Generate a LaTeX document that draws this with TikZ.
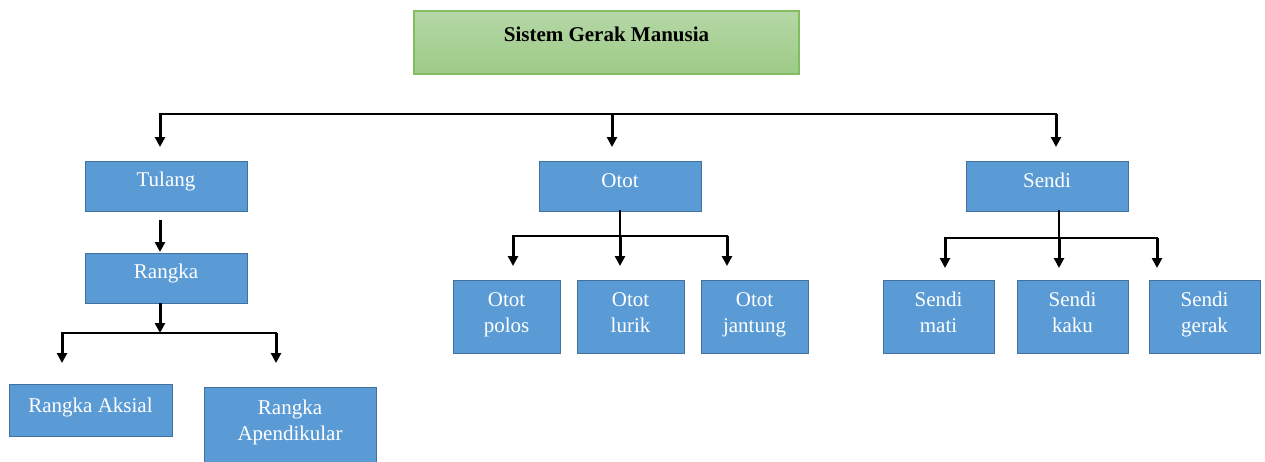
\documentclass[tikz,border=0pt]{standalone}
\usepackage{fontspec}
\setmainfont{Liberation Serif}
\usetikzlibrary{positioning,arrows.meta}

\definecolor{boxblue}{HTML}{5B9BD5}
\definecolor{boxline}{HTML}{41719C}
\definecolor{greentop}{HTML}{B5D7A6}
\definecolor{greenbot}{HTML}{9DCB87}
\definecolor{greenline}{HTML}{82BD62}

\begin{document}
\begin{tikzpicture}[x=1pt, y=-1pt,
    box/.style={rectangle, draw=boxline, line width=1pt, fill=boxblue, inner sep=0pt, outer sep=0pt},
    txt/.style={inner sep=0pt, text=white, align=center, font=\fontsize{21}{26}\selectfont},
    arr/.style={-{Triangle[width=10pt,length=10pt]}, line width=3pt},
    ln/.style={line width=2pt, line cap=rect}]
            \path[use as bounding box, clip] (0,0) rectangle (1265,461);

            \node (G) [rectangle, draw=greenline, line width=1.5pt, top color=greentop, bottom color=greenbot, minimum width=385pt, minimum height=63pt, inner sep=0pt] at (606.5,42.5) {};
            \node (T) [box, minimum width=162pt, minimum height=50pt] at (166,186) {};
            \node (O) [box, minimum width=162pt, minimum height=50pt, right=292pt of T] {};
            \node (S) [box, minimum width=162pt, minimum height=50pt, right=265pt of O] {};
            \node (R) [box, minimum width=162pt, minimum height=50pt, below=42pt of T] {};
            \node (RA) [box, minimum width=163pt, minimum height=52pt, below=81pt of R, xshift=-75.5pt] {};
            \node (RP) [box, minimum width=172pt, minimum height=88pt, below=84pt of R, xshift=124pt] {};
            \node (O1) [box, minimum width=107pt, minimum height=73pt, below=69pt of O, xshift=-113.5pt] {};
            \node (O2) [box, minimum width=107pt, minimum height=73pt, right=17pt of O1] {};
            \node (O3) [box, minimum width=107pt, minimum height=73pt, right=17pt of O2] {};
            \node (S1) [box, minimum width=111pt, minimum height=73pt, below=69pt of S, xshift=-108.5pt] {};
            \node (S2) [box, minimum width=111pt, minimum height=73pt, right=23pt of S1] {};
            \node (S3) [box, minimum width=111pt, minimum height=73pt, right=21pt of S2] {};

            \node (Gt) [below=16pt of G.north, inner sep=0pt, font=\fontsize{21}{26}\selectfont\bfseries] {Sistem Gerak Manusia};
            \node (Tt) [txt, below=11pt of T.north] {Tulang};
            \node (Ot) [txt, below=12pt of O.north] {Otot};
            \node (St) [txt, below=12pt of S.north] {Sendi};
            \node (Rt) [txt, below=11pt of R.north] {Rangka};
            \node (RAt) [txt, below=14pt of RA.north] {Rangka Aksial};
            \node (RPt) [txt, below=13pt of RP.north] {Rangka\\Apendikular};
            \node (O1t) [txt, below=12pt of O1.north] {Otot\\polos};
            \node (O2t) [txt, below=12pt of O2.north] {Otot\\lurik};
            \node (O3t) [txt, below=12pt of O3.north] {Otot\\jantung};
            \node (S1t) [txt, below=12pt of S1.north] {Sendi\\mati};
            \node (S2t) [txt, below=12pt of S2.north] {Sendi\\kaku};
            \node (S3t) [txt, below=12pt of S3.north] {Sendi\\gerak};

            \coordinate (b1) at (160,114);
            \coordinate (b2) at (612,114);
            \coordinate (b3) at (1056,114);
            \coordinate (r0) at (160,333);
            \coordinate (r1) at (62,333);
            \coordinate (r2) at (276,333);
            \coordinate (o1) at (513,236);
            \coordinate (o3) at (727,236);
            \coordinate (s1) at (945,238);
            \coordinate (s3) at (1157,238);

            \draw[ln, line width=2.6pt] (b1) -- (b3);
            \draw[arr, shorten >=14pt] (b1) -- (b1 |- T.north);
            \draw[arr, shorten >=14pt] (b2) -- (b2 |- O.north);
            \draw[arr, shorten >=14pt] (b3) -- (b3 |- S.north);

            \draw[arr, shorten <=9pt, shorten >=1pt] (b1 |- T.south) -- (b1 |- R.north);
            \draw[arr] (b1 |- R.south) -- (r0);
            \draw[ln] (r1) -- (r2);
            \draw[arr, shorten >=21pt] (r1) -- (r1 |- RA.north);
            \draw[arr, shorten >=24pt] (r2) -- (r2 |- RP.north);

            \draw[ln] (O.south) -- (O.south |- o1);
            \draw[ln] (o1) -- (o3);
            \draw[arr, shorten >=14pt] (o1) -- (o1 |- O1.north);
            \draw[arr, shorten >=14pt] (O.south |- o1) -- (O.south |- O2.north);
            \draw[arr, shorten >=14pt] (o3) -- (o3 |- O3.north);

            \draw[ln] ([xshift=12pt]S.south) -- ([xshift=12pt]S.south |- s1);
            \draw[ln] (s1) -- (s3);
            \draw[arr, shorten >=12pt] (s1) -- (s1 |- S1.north);
            \draw[arr, shorten >=12pt] ([xshift=12pt]S.south |- s1) -- ([xshift=12pt]S.south |- S2.north);
            \draw[arr, shorten >=12pt] (s3) -- (s3 |- S3.north);
        \end{tikzpicture}
\end{document}
